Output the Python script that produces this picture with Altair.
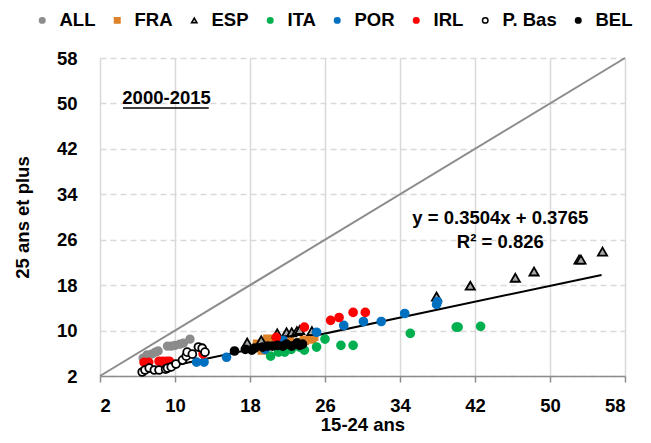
import altair as alt
import pandas as pd

FONT = "Liberation Sans, Arial, sans-serif"
FS = 18.5

series = ["ALL", "FRA", "ESP", "ITA", "POR", "IRL", "P. Bas", "BEL"]
fill_colors = ["#8C8C8C", "#DD8228", "#A6A6A6", "#00B050", "#0070C0", "#FF0000", "#FFFFFF", "#000000"]
stroke_colors = ["#8C8C8C", "#DD8228", "#000000", "#00B050", "#0070C0", "#FF0000", "#000000", "#000000"]
shapes = ["circle", "square", "triangle-up", "circle", "circle", "circle", "circle", "circle"]

all_x = [6.6, 7.0, 7.5, 7.9, 8.2, 9.2, 9.6, 10.0, 10.5, 10.9, 11.6]
all_y = [5.15, 5.7, 5.85, 6.2, 6.4, 7.25, 7.25, 7.4, 7.6, 7.8, 8.5]

fra_x = [18.8, 19.3, 19.55, 19.9, 20.6, 21.7, 22.2, 23.3, 23.8, 24.6, 24.8, 18.8]
fra_y = [7.6, 6.55, 7.95, 8.5, 8.3, 7.6, 8.1, 7.8, 8.3, 8.5, 9.0, 7.1]

esp_x = [17.7, 19.2, 20.9, 21.9, 22.45, 23.0, 23.3, 24.6, 37.9, 41.5, 46.3, 48.3, 53.1, 53.3, 55.6]
esp_y = [7.9, 8.3, 9.5, 9.7, 9.7, 9.9, 10.1, 9.9, 16.0, 17.9, 19.3, 20.4, 22.5, 22.5, 23.9]

ita_x = [20.2, 21.05, 21.7, 22.4, 23.3, 23.8, 25.1, 26.0, 27.7, 29.0, 35.1, 40.0, 40.2, 42.6]
ita_y = [5.5, 6.2, 6.2, 6.7, 7.1, 6.55, 7.1, 8.5, 7.4, 7.4, 9.5, 10.6, 10.6, 10.75]

por_x = [12.3, 13.1, 15.5, 19.6, 21.5, 25.1, 28.0, 30.1, 32.0, 34.5, 37.9, 38.0]
por_y = [4.45, 4.45, 5.3, 6.7, 8.3, 9.7, 10.9, 11.6, 11.6, 13.0, 14.6, 15.1]

irl_x = [6.7, 7.2, 8.3, 8.7, 9.1, 9.4, 13.0, 20.8, 23.8, 26.6, 27.5, 29.0, 30.3]
irl_y = [4.4, 4.4, 4.6, 4.6, 4.6, 4.6, 5.9, 8.8, 10.6, 11.8, 12.3, 13.2, 13.2]

nld_x = [6.5, 6.8, 7.25, 7.8, 8.3, 9.0, 9.2, 9.6, 10.1, 10.8, 11.2, 11.3, 11.85, 12.5, 12.9, 13.2]
nld_y = [2.7, 3.05, 3.4, 3.05, 3.05, 3.2, 3.4, 3.6, 4.1, 4.8, 5.5, 6.2, 5.85, 7.1, 6.9, 6.2]

bel_x = [16.35, 17.5, 18.2, 18.5, 19.35, 19.9, 20.4, 20.95, 21.5, 21.9, 22.45, 23.0, 23.3, 23.6]
bel_y = [6.4, 6.7, 6.55, 6.9, 7.1, 7.25, 7.25, 7.4, 7.25, 7.6, 7.25, 7.8, 7.4, 7.6]

diag_x = [2, 58]
diag_y = [2, 58]
trend_x = [6.5, 55.5]
trend_y = [2.65, 19.8]

ticks = [2, 10, 18, 26, 34, 42, 50, 58]

ann_text = ["2000-2015", "y = 0.3504x + 0.3765", "R² = 0.826"]
ann_x = [9.1, 44.7, 44.7]
ann_y = [51.0, 29.8, 25.6]
underline_x = [4.45]
underline_x2 = [13.6]
underline_y = [49.2]

pairs = [(all_x, all_y), (fra_x, fra_y), (esp_x, esp_y), (ita_x, ita_y),
         (por_x, por_y), (irl_x, irl_y), (nld_x, nld_y), (bel_x, bel_y)]
rows = []
for name, (xs, ys) in zip(series, pairs):
    for a, b in zip(xs, ys):
        rows.append({"pays": name, "x": a, "y": b})
df = pd.DataFrame(rows)
df["ord"] = range(len(df))

xscale = alt.Scale(domain=[2, 58], nice=False, zero=False)
yscale = alt.Scale(domain=[2, 58], nice=False, zero=False)

X = alt.X("x:Q", scale=xscale, axis=alt.Axis(
    values=ticks, title="15-24  ans", grid=True, gridDash=[], gridColor="#D9D9D9", gridWidth=1.5,
    domain=True, domainColor="#8C8C8C", domainWidth=1.5, ticks=True, tickColor="#8C8C8C",
    tickWidth=1.5, tickSize=6, labelPadding=14, titleBaseline="alphabetic", titleY=54))
Y = alt.Y("y:Q", scale=yscale, axis=alt.Axis(
    values=ticks, title="25 ans et plus", grid=True, gridDash=[6, 4], gridColor="#D9D9D9", gridWidth=1.5,
    domain=False, ticks=False, tickSize=0, labelPadding=23, titleBaseline="middle", titleX=-78, titleY=159))

legend = alt.Legend(orient="none", legendX=-67, legendY=-47, direction="horizontal", columns=8,
                    title=None, labelFont=FONT, labelFontSize=FS,
                    labelFontWeight="bold", labelColor="black", symbolSize=30,
                    symbolStrokeWidth=1.5, columnPadding=12, labelOffset=8, padding=0)

enc = dict(
    x=X, y=Y,
    fill=alt.Fill("pays:N", scale=alt.Scale(domain=series, range=fill_colors), legend=legend),
    stroke=alt.Stroke("pays:N", scale=alt.Scale(domain=series, range=stroke_colors), legend=legend),
    shape=alt.Shape("pays:N", scale=alt.Scale(domain=series, range=shapes), legend=legend),
    order=alt.Order("ord:Q"),
)

base_pts = alt.Chart(df)
pts_a = base_pts.transform_filter(alt.FieldOneOfPredicate(field="pays", oneOf=["ALL", "FRA"])).mark_point(
    size=62, strokeWidth=1.5, opacity=1, fillOpacity=1).encode(**enc)
pts_esp = base_pts.transform_filter(alt.FieldEqualPredicate(field="pays", equal="ESP")).mark_point(
    size=85, strokeWidth=1.8, opacity=1, fillOpacity=1).encode(**enc)
pts_b = base_pts.transform_filter(alt.FieldOneOfPredicate(field="pays", oneOf=["ITA", "POR", "IRL", "P. Bas", "BEL"])).mark_point(
    size=62, strokeWidth=1.8, opacity=1, fillOpacity=1).encode(**enc)

diag = alt.Chart(pd.DataFrame({"x": diag_x, "y": diag_y})).mark_line(
    color="#8C8C8C", strokeWidth=2).encode(x=X, y=Y)
trend = alt.Chart(pd.DataFrame({"x": trend_x, "y": trend_y})).mark_line(
    color="#000000", strokeWidth=2).encode(x=X, y=Y)

texts = alt.Chart(pd.DataFrame({"x": ann_x, "y": ann_y, "t": ann_text})).mark_text(
    font=FONT, fontSize=FS, fontWeight="bold", color="black", baseline="middle", align="center"
).encode(x=X, y=Y, text="t:N")

underline = alt.Chart(pd.DataFrame({"x": underline_x, "x2": underline_x2, "y": underline_y})).mark_rule(
    color="black", strokeWidth=1.5).encode(x=X, x2="x2:Q", y=Y)

chart = alt.layer(diag, trend, pts_a, pts_esp, pts_b, texts, underline).properties(
    width=525, height=318,
    autosize=alt.AutoSizeParams(type="none"),
    padding={"left": 92, "top": 50, "right": 18, "bottom": 59},
).configure_view(stroke=None).configure_axis(
    labelFont=FONT, labelFontSize=FS, labelFontWeight="bold", labelColor="black",
    titleFont=FONT, titleFontSize=FS, titleFontWeight="bold", titleColor="black",
)

chart.save("out.html", embed_options={"renderer": "svg", "actions": False})
